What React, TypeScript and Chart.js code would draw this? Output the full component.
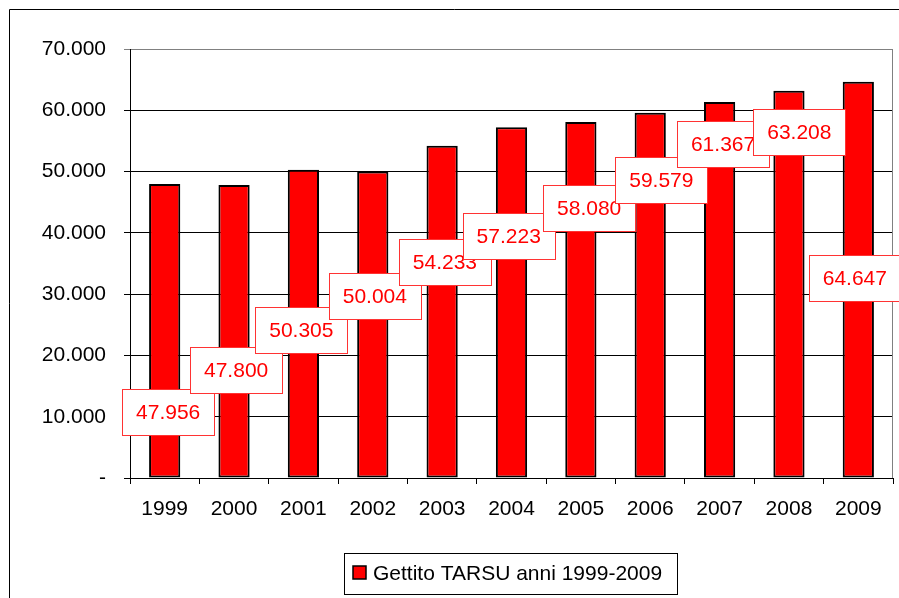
import React, { useEffect, useRef } from "react";
import { Chart, registerables } from "chart.js";

Chart.register(...registerables);

const categories = ["1999", "2000", "2001", "2002", "2003", "2004", "2005", "2006", "2007", "2008", "2009"];
const values = [47956, 47800, 50305, 50004, 54233, 57223, 58080, 59579, 61367, 63208, 64647];
const seriesName = "Gettito TARSU anni 1999-2009";
const yTicks = [0, 10000, 20000, 30000, 40000, 50000, 60000, 70000];

// Label box anchors (as placed in the original): offset in category units, height in data units
const labelOffsetX = [0.05, 0.03, -0.03, 0.03, 0.04, -0.04, 0.12, 0.16, 0.05, 0.15, -0.05];
const labelAnchorY = [10769, 17621, 24148, 29695, 35242, 39484, 44053, 48621, 54495, 56453, 32632];

const FONT = "'Liberation Sans', Arial, sans-serif";

function fmt(v: number): string {
  if (v === 0) return "-";
  const s = Math.round(v).toString();
  return s.replace(/\B(?=(\d{3})+(?!\d))/g, ".");
}

const decorPlugin = {
  id: "decor",
  beforeDraw(chart: any) {
    const ctx = chart.ctx;
    ctx.save();
    ctx.fillStyle = "#ffffff";
    ctx.fillRect(0, 0, chart.width, chart.height);
    ctx.strokeStyle = "#000000";
    ctx.lineWidth = 1;
    ctx.beginPath();
    ctx.moveTo(9.5, chart.height);
    ctx.lineTo(9.5, 9.5);
    ctx.lineTo(chart.width, 9.5);
    ctx.stroke();
    ctx.restore();
  },
  afterDraw(chart: any) {
    const ctx = chart.ctx;
    const area = chart.chartArea;
    const xs = chart.scales.x;
    const ys = chart.scales.y;
    ctx.save();
    // right plot border
    ctx.strokeStyle = "#808080";
    ctx.lineWidth = 1;
    ctx.beginPath();
    ctx.moveTo(Math.round(area.right) - 0.5, area.top);
    ctx.lineTo(Math.round(area.right) - 0.5, area.bottom);
    ctx.stroke();

    // value labels
    const catW = (area.right - area.left) / categories.length;
    const bw = 92;
    const bh = 46;
    ctx.font = `21px ${FONT}`;
    ctx.textAlign = "center";
    ctx.textBaseline = "middle";
    values.forEach((v, i) => {
      const cx = xs.getPixelForValue(i) + labelOffsetX[i] * catW;
      const cy = ys.getPixelForValue(labelAnchorY[i]);
      const x0 = Math.round(cx - bw / 2) + 0.5;
      const y0 = Math.round(cy - bh / 2) + 0.5;
      ctx.fillStyle = "#ffffff";
      ctx.fillRect(x0, y0, bw, bh);
      ctx.strokeStyle = "#ff3333";
      ctx.lineWidth = 1;
      ctx.strokeRect(x0, y0, bw, bh);
      ctx.fillStyle = "#ff0000";
      ctx.fillText(fmt(v), cx, cy + 1);
    });

    // legend
    const lx = 344.5, ly = 553.5, lw = 333, lh = 41;
    ctx.fillStyle = "#ffffff";
    ctx.fillRect(lx, ly, lw, lh);
    ctx.strokeStyle = "#000000";
    ctx.strokeRect(lx, ly, lw, lh);
    ctx.fillStyle = "#ff0000";
    ctx.fillRect(353, 566, 13, 13);
    ctx.strokeStyle = "#000000";
    ctx.lineWidth = 1.5;
    ctx.strokeRect(353, 566, 13, 13);
    ctx.fillStyle = "#000000";
    ctx.font = `21px ${FONT}`;
    ctx.textAlign = "left";
    ctx.textBaseline = "middle";
    ctx.fillText(seriesName, 373, 574);
    ctx.restore();
  },
};

export default function App() {
  const ref = useRef<HTMLCanvasElement | null>(null);
  useEffect(() => {
    if (!ref.current) return;
    const chart = new Chart(ref.current, {
      type: "bar",
      data: {
        labels: categories,
        datasets: [
          {
            label: seriesName,
            data: values,
            backgroundColor: "#ff0000",
            borderColor: "#000000",
            borderWidth: 2,
            borderSkipped: false,
            categoryPercentage: 1,
            barPercentage: 0.45,
          },
        ],
      },
      options: {
        responsive: false,
        animation: false,
        devicePixelRatio: 1,
        layout: { padding: { top: 49, right: 6, left: 0, bottom: 0 } },
        plugins: {
          legend: { display: false },
          tooltip: { enabled: false },
        },
        scales: {
          x: {
            offset: true,
            afterFit(scale: any) {
              scale.height = 120;
            },
            grid: {
              offset: true,
              drawOnChartArea: false,
              drawTicks: true,
              tickLength: 6,
              color: "#000000",
            },
            border: { color: "#000000", width: 1 },
            ticks: {
              color: "#000000",
              font: { family: FONT, size: 21 },
              padding: 13,
              maxRotation: 0,
            },
          },
          y: {
            min: 0,
            max: 70000,
            afterFit(scale: any) {
              scale.width = 130;
            },
            afterBuildTicks(scale: any) {
              scale.ticks = yTicks.map((v) => ({ value: v }));
            },
            grid: {
              color: (c: any) => (c.tick && c.tick.value === 70000 ? "#808080" : "#000000"),
              tickLength: 6,
              lineWidth: 1,
            },
            border: { color: "#000000", width: 1 },
            ticks: {
              color: "#000000",
              font: { family: FONT, size: 21 },
              padding: 18,
              callback: (v: any) => fmt(Number(v)),
            },
          },
        },
      },
      plugins: [decorPlugin],
    });
    return () => chart.destroy();
  }, []);
  return (
    <div style={{ position: "fixed", left: 0, top: 0, width: 899, height: 598, background: "#fff" }}>
      <canvas ref={ref} width={899} height={598} style={{ width: 899, height: 598, display: "block" }} />
    </div>
  );
}
